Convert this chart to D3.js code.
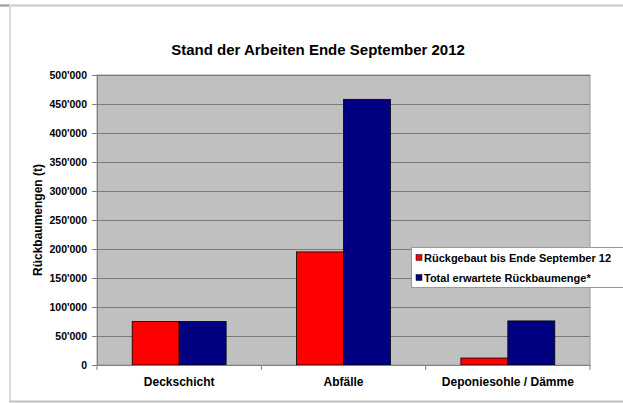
<!DOCTYPE html>
<html><head><meta charset="utf-8">
<script src="https://cdn.jsdelivr.net/npm/d3@7"></script>
<style>body{margin:0;background:#fff}svg{display:block;font-family:"Liberation Sans",Arial,sans-serif}</style>
</head><body><svg id="c" width="623" height="403"></svg>
<script>
const categories = ["Deckschicht", "Abfälle", "Deponiesohle / Dämme"];
const seriesNames = ["Rückgebaut bis Ende September 12", "Total erwartete Rückbaumenge*"];
const rueckgebaut = [75000, 195000, 12000];
const totalErwartet = [75000, 458000, 76000];
const yTicks = [0, 50000, 100000, 150000, 200000, 250000, 300000, 350000, 400000, 450000, 500000];
const colors = ["#ff0000", "#000080"];

const svg = d3.select("#c");
const L = 97, R = 590, T = 75, B = 365;

// frame
svg.append("line").attr("x1",0).attr("x2",623).attr("y1",5.5).attr("y2",5.5).attr("stroke","#c8c8c8").attr("stroke-width",2);
svg.append("line").attr("x1",0).attr("x2",10).attr("y1",5.5).attr("y2",5.5).attr("stroke","#a0a0a0").attr("stroke-width",2);
svg.append("line").attr("x1",10).attr("x2",10).attr("y1",5).attr("y2",403).attr("stroke","#dcdcdc").attr("stroke-width",2);
svg.append("line").attr("x1",10).attr("x2",623).attr("y1",401.5).attr("y2",401.5).attr("stroke","#c0c0c0").attr("stroke-width",2);

const x = d3.scaleBand().domain(categories).range([L, R]);
const y = d3.scaleLinear().domain([0, 500000]).range([B, T]);
const fmt = v => d3.format(",")(v).replace(/,/g, "'");

svg.append("rect").attr("x",L).attr("y",T).attr("width",R-L).attr("height",B-T).attr("fill","#c0c0c0").attr("stroke","#9a9a9a");

svg.append("g").selectAll("line").data(yTicks.slice(1)).join("line")
  .attr("x1",L).attr("x2",R).attr("y1",d=>Math.round(y(d))+0.5).attr("y2",d=>Math.round(y(d))+0.5)
  .attr("stroke","#7a7a7a");

// bars
const bw = x.bandwidth()/3.5;
const series = [rueckgebaut, totalErwartet];
series.forEach((vals, si) => {
  svg.append("g").selectAll("rect").data(categories).join("rect")
    .attr("x", (c) => x(c) + x.bandwidth()/2 - bw + si*bw)
    .attr("y", (c,i) => y(vals[i]))
    .attr("width", bw)
    .attr("height", (c,i) => B - y(vals[i]))
    .attr("fill", colors[si]).attr("stroke","#000").attr("stroke-width",0.8);
});

// y axis
const ya = svg.append("g").attr("transform",`translate(${L},0)`)
  .call(d3.axisLeft(y).tickValues(yTicks).tickFormat(fmt).tickSize(5).tickPadding(5));
ya.select(".domain").attr("stroke","#808080");
ya.selectAll(".tick line").attr("stroke","#808080");
ya.selectAll("text").attr("font-size",10.5).attr("font-weight","bold").attr("fill","#000").attr("font-family","Liberation Sans, Arial, sans-serif");

// x axis
const xa = svg.append("g").attr("transform",`translate(0,${B})`)
  .call(d3.axisBottom(x).tickSize(0).tickPadding(12));
xa.select(".domain").attr("stroke","#808080");
xa.selectAll("text").attr("font-size",12).attr("font-weight","bold").attr("fill","#000").attr("font-family","Liberation Sans, Arial, sans-serif");
// tick separators
svg.append("g").selectAll("line").data(d3.range(categories.length+1)).join("line")
  .attr("x1",i=>L + i*x.step()).attr("x2",i=>L + i*x.step()).attr("y1",B).attr("y2",B+5).attr("stroke","#808080");

// title
svg.append("text").attr("x",318).attr("y",55).attr("text-anchor","middle")
  .attr("font-size",15).attr("font-weight","bold").text("Stand der Arbeiten Ende September 2012");

// y label
svg.append("text").attr("transform",`translate(42,${(T+B)/2}) rotate(-90)`).attr("text-anchor","middle")
  .attr("font-size",12).attr("font-weight","bold").text("Rückbaumengen (t)");

// legend
const lg = svg.append("g");
lg.append("rect").attr("x",411.5).attr("y",247.5).attr("width",214).attr("height",40).attr("fill","#fff").attr("stroke","#999");
seriesNames.forEach((n,i) => {
  const yy = 258 + i*20;
  lg.append("rect").attr("x",416).attr("y",yy-3.5).attr("width",6).attr("height",6).attr("fill",colors[i]).attr("stroke","#000").attr("stroke-width",0.5);
  lg.append("text").attr("x",424).attr("y",yy+4).attr("font-size",11).attr("font-weight","bold").text(n);
});
</script></body></html>
